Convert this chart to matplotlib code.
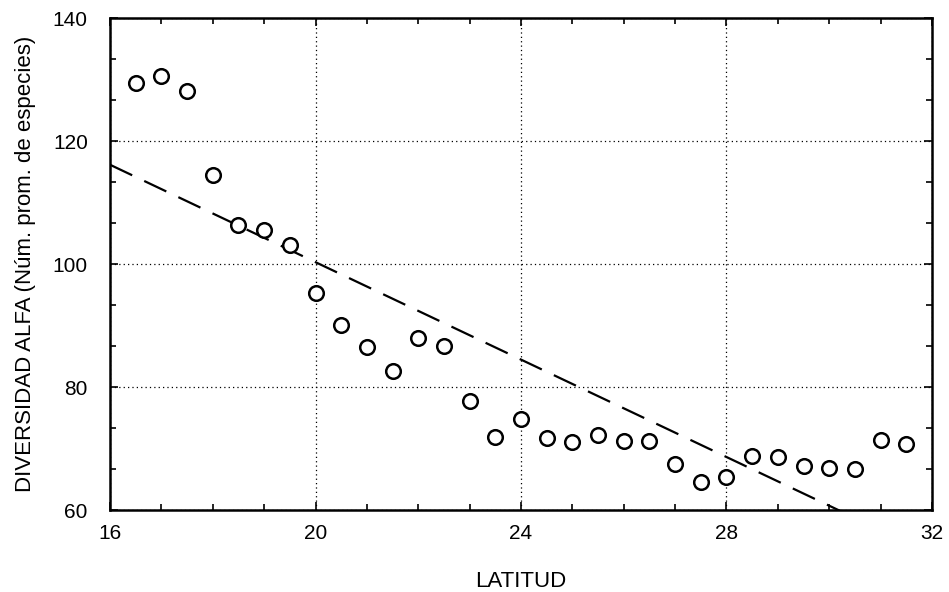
import numpy as np
import matplotlib
matplotlib.use('Agg')
import matplotlib.pyplot as plt
from matplotlib.ticker import MultipleLocator

# latitude (deg) and mean alpha diversity
latitud = [16.5, 17, 17.5, 18, 18.5, 19, 19.5, 20, 20.5, 21, 21.5, 22, 22.5, 23,
           23.5, 24, 24.5, 25, 25.5, 26, 26.5, 27, 27.5, 28, 28.5, 29, 29.5, 30,
           30.5, 31, 31.5]
diversidad = [129.4, 130.6, 128.1, 114.5, 106.3, 105.5, 103.1, 95.3, 90.1, 86.5,
              82.6, 88.0, 86.7, 77.7, 71.9, 74.8, 71.7, 71.1, 72.2, 71.2, 71.2,
              67.5, 64.6, 65.4, 68.8, 68.7, 67.2, 66.8, 66.6, 71.4, 70.8]

# regression line y = a + b*x
intercepto = 179.5
pendiente = -3.96
x_linea = [16, 32]

plt.rcParams['font.family'] = ['Liberation Sans', 'DejaVu Sans']

fig = plt.figure(figsize=(9.49, 5.92), dpi=100)
ax = fig.add_axes([0.116, 0.1385, 0.866, 0.831])

xl = np.array(x_linea, dtype=float)
ax.plot(xl, intercepto + pendiente * xl, color='black', lw=1.6,
        dashes=(11, 6), zorder=2)
ax.plot(latitud, diversidad, 'o', mfc='white', mec='black', ms=10.5, mew=1.8,
        zorder=3)

ax.set_xlim(16, 32)
ax.set_ylim(60, 140)
ax.xaxis.set_major_locator(MultipleLocator(4))
ax.xaxis.set_minor_locator(MultipleLocator(1))
ax.yaxis.set_major_locator(MultipleLocator(20))
ax.yaxis.set_minor_locator(MultipleLocator(20 / 3))

ax.grid(True, which='major', color='black', linestyle=(0, (1, 2.5)), lw=0.9)
ax.tick_params(which='both', direction='in', top=True, right=True,
               labelsize=15, width=1.2)
ax.tick_params(axis='x', pad=10)
ax.tick_params(axis='y', pad=16)
ax.tick_params(which='major', length=6)
ax.tick_params(which='minor', length=4)
for s in ax.spines.values():
    s.set_linewidth(1.8)

ax.set_xlabel('LATITUD', fontsize=16, labelpad=20)
ax.set_ylabel('DIVERSIDAD ALFA (Núm. prom. de especies)', fontsize=16,
              labelpad=12)

fig.savefig('out.png', dpi=100)
